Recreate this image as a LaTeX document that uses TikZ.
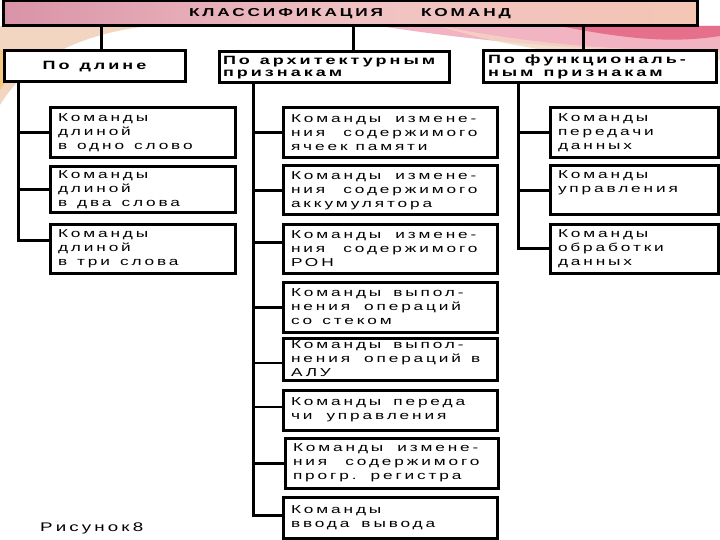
\documentclass[tikz,border=0pt]{standalone}
\usepackage{fontspec}
\setmainfont{Liberation Sans}[FakeStretch=1.5,LetterSpace=25]
\usetikzlibrary{calc}
\definecolor{titleL}{HTML}{D993A8}
\definecolor{titleM}{HTML}{F0C2C4}
\definecolor{titleR}{HTML}{F4C6B4}
\definecolor{peach}{HTML}{F3D6C2}
\definecolor{sunny}{HTML}{F5C880}
\definecolor{pinkband}{HTML}{EE9AB0}
\definecolor{redband}{HTML}{E4607E}
\newcommand{\wg}[1][10pt]{\hspace*{#1}}
\tikzset{
  box/.style={draw=black, line width=3pt, fill=white, inner sep=0pt, outer sep=0pt},
  lvl/.style={box, font=\bfseries\fontsize{12}{12.5}\selectfont},
  leaf/.style={box, font=\fontsize{11.5}{14}\selectfont, align=left},
  wire/.style={line width=3pt, line cap=rect},
  thinwire/.style={line width=1.6pt}
}
\newcommand{\leafbox}[6]{% name, x1, y1, x2, y2, text
  \node[leaf, anchor=north west, minimum width=#4-#2, minimum height=#5-#3,
        text width=#4-#2-16pt] (#1) at (#2,#3) {#6};}
\begin{document}
\begin{tikzpicture}[x=1pt,y=-1pt]
\useasboundingbox (0,0) rectangle (720,540);
\fill[white] (0,0) rectangle (720,540);
% background swoosh
\fill[peach] (0,26) -- (150,26) .. controls (90,32) and (30,55) .. (0,105) -- cycle;
\fill[sunny] (0,50) .. controls (12,50) and (18,60) .. (12,72) .. controls (8,80) and (3,86) .. (0,90) -- cycle;
\fill[pinkband, opacity=0.75] (380,26) -- (720,26) -- (720,52) .. controls (640,52) and (520,48) .. (380,26) -- cycle;
\fill[redband, opacity=0.8] (560,26) -- (720,26) -- (720,36) .. controls (670,44) and (620,38) .. (560,26) -- cycle;
\fill[peach, opacity=0.8] (440,26) .. controls (540,46) and (640,52) .. (720,50) -- (720,60) .. controls (630,62) and (530,55) .. (440,26) -- cycle;
% title
\node[draw=black, line width=3pt, inner sep=0pt, outer sep=0pt,
      left color=titleL, right color=titleR, middle color=titleM,
      minimum width=694pt, minimum height=25pt,
      font=\bfseries\fontsize{11.5}{12}\selectfont] (title) at (350,13.5)
      {КЛАССИФИКАЦИЯ\wg[38pt]КОМАНД};
% level 2
\node[lvl, anchor=north west, minimum width=181pt, minimum height=31pt] (A) at (4,51) {По\wg длине};
\node[lvl, anchor=north west, minimum width=230pt, minimum height=31pt, align=left,
      text width=222pt] (B) at (219,52) {По\wg архитектурным\\признакам};
\node[lvl, anchor=north west, minimum width=233pt, minimum height=32pt, align=left,
      text width=223pt] (C) at (483,51) {По\wg функциональ-\\ным\wg признакам};
\coordinate (tA) at (101,0);
\coordinate (tB) at (353,0);
\coordinate (tC) at (583,0);
\draw[wire] (title.south -| tA) -- (A.north -| tA);
\draw[wire] (title.south -| tB) -- (B.north -| tB);
\draw[wire] (title.south -| tC) -- (C.north -| tC);
% leaves left
\leafbox{a1}{50}{108}{235}{158}{Команды\\длиной\\в\wg одно\wg слово}
\leafbox{a2}{50}{167}{235}{213}{Команды\\длиной\\в\wg два\wg слова}
\leafbox{a3}{50}{225}{235}{273}{Команды\\длиной\\в\wg три\wg слова}
% leaves middle
\leafbox{b1}{283}{108}{497}{158}{Команды\wg[14pt]измене-\\ния\wg[18pt]содержимого\\ячеек\wg[8pt]памяти}
\leafbox{b2}{283}{166}{497}{215}{Команды\wg[14pt]измене-\\ния\wg[18pt]содержимого\\аккумулятора}
\leafbox{b3}{283}{225}{497}{273}{Команды\wg[14pt]измене-\\ния\wg[18pt]содержимого\\РОН}
\leafbox{b4}{283}{282}{497}{332}{Команды\wg[12pt]выпол-\\нения\wg[14pt]операций\\со\wg стеком}
\leafbox{b5}{283}{338}{497}{380}{Команды\wg[12pt]выпол-\\нения\wg[14pt]операций\wg в\\АЛУ}
\leafbox{b6}{283}{390}{497}{430}{Команды\wg[12pt]переда\\чи\wg[14pt]управления}
\leafbox{b7}{285}{438}{498}{488}{Команды\wg[14pt]измене-\\ния\wg[18pt]содержимого\\прогр.\wg[14pt]регистра}
\leafbox{b8}{283}{497}{497}{538}{Команды\\ввода\wg[12pt]вывода}
% leaves right
\leafbox{c1}{550}{108}{718}{158}{Команды\\передачи\\данных}
\leafbox{c2}{550}{166}{718}{215}{Команды\\управления\\\strut}
\leafbox{c3}{550}{225}{718}{273}{Команды\\обработки\\данных}
% trunks
\coordinate (sA) at (18,0);
\coordinate (sB) at (253,0);
\coordinate (sC) at (518,0);
\coordinate (a3c) at ($(a3.west)+(0,-9)$);
\coordinate (b3c) at ($(b3.west)+(0,-7)$);
\coordinate (b5c) at ($(b5.west)+(0,4)$);
\coordinate (b6c) at ($(b6.west)+(0,-3)$);
\coordinate (b8c) at ($(b8.west)+(0,-2.5)$);
\coordinate (c3c) at ($(c3.west)+(0,-1)$);
\draw[wire] (A.south -| sA) |- (a3c);
\draw[wire] (sA |- a1.west) -- (a1.west);
\draw[wire] (sA |- a2.west) -- (a2.west);
\draw[wire] (B.south -| sB) |- (b8c);
\draw[wire] (sB |- b1.west) -- (b1.west);
\draw[wire] (sB |- b2.west) -- (b2.west);
\draw[wire] (sB |- b3c) -- (b3c);
\draw[wire] (sB |- b4.west) -- (b4.west);
\draw[thinwire] (sB |- b5c) -- (b5c);
\draw[thinwire] (sB |- b6c) -- (b6c);
\draw[wire] (sB |- b7.west) -- (b7.west);
\draw[wire] (C.south -| sC) |- (c3c);
\draw[wire] (sC |- c1.west) -- (c1.west);
\draw[wire] (sC |- c2.west) -- (c2.west);
% caption
\node[anchor=west, font=\fontsize{12.5}{13}\selectfont, inner sep=0pt] (cap) at (40,528) {Рисунок8};
\end{tikzpicture}
\end{document}
